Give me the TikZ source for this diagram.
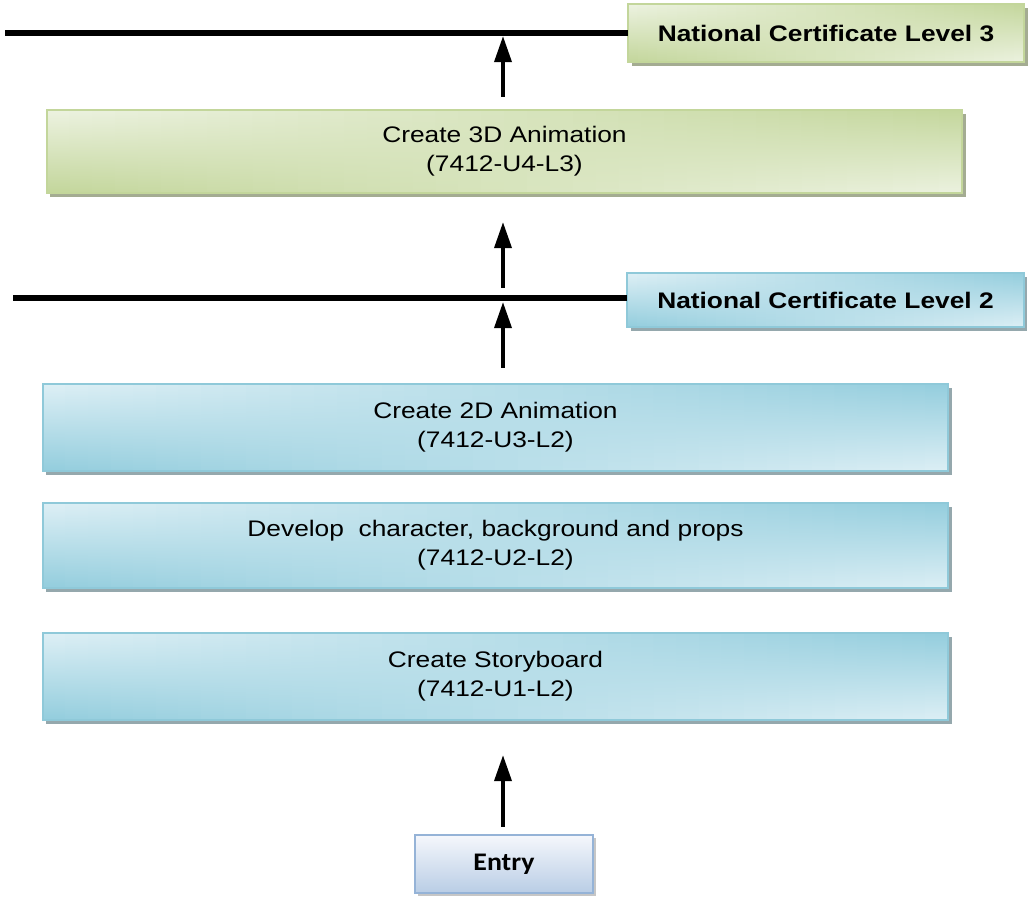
\documentclass[tikz,border=0pt]{standalone}
\usepackage{fontspec}
\setmainfont[FakeStretch=1.17]{Liberation Sans}
\newfontfamily\entryfont[FakeStretch=1.1]{Carlito}
\usetikzlibrary{arrows.meta,shadows,calc}

\definecolor{bluelight}{HTML}{DDEFF5}
\definecolor{bluedark}{HTML}{93CDDD}
\definecolor{blueline}{HTML}{8FC9D9}
\definecolor{blueshadow}{HTML}{95A8AD}
\definecolor{greenlight}{HTML}{ECF2E0}
\definecolor{greendark}{HTML}{C3D69B}
\definecolor{greenline}{HTML}{C3D69B}
\definecolor{greenshadow}{HTML}{A4AC92}
\definecolor{entrylight}{HTML}{F5F7FC}
\definecolor{entrydark}{HTML}{B9CDE5}
\definecolor{entryline}{HTML}{95B3D7}

\begin{document}
\begin{tikzpicture}[
    x=0.025cm, y=-0.025cm,
    saddle/.style 2 args={path picture={
        \foreach \i [evaluate=\i as \p using {int(100-\i*2.5)},
                     evaluate=\i as \a using {\i/40},
                     evaluate=\i as \b using {(\i+1.2)/40}] in {0,...,39}
            \fill[top color=#1!\p!#2, bottom color=#2!\p!#1]
                ($(path picture bounding box.south west)!\a!(path picture bounding box.south east)$)
                rectangle
                ($(path picture bounding box.north west)!\b!(path picture bounding box.north east)$);}},
    unitbox/.style={draw, line width=0.05cm, inner sep=0pt, outer sep=0pt, align=center,
        font=\fontsize{16}{20.6}\selectfont},
    bluebox/.style={unitbox, draw=blueline, saddle={bluelight}{bluedark},
        drop shadow={shadow xshift=0.09cm, shadow yshift=-0.1cm, fill=blueshadow, opacity=1}},
    greenbox/.style={unitbox, draw=greenline, saddle={greenlight}{greendark},
        drop shadow={shadow xshift=0.09cm, shadow yshift=-0.1cm, fill=greenshadow, opacity=1}},
    levelbox/.style={font=\fontsize{16}{20.6}\selectfont\bfseries,
        minimum width=9.9cm},
    levelline/.style={line width=0.15cm},
    uparrow/.style={line width=0.1cm, -{Triangle[length=0.65cm, width=0.42cm]}}
]
\useasboundingbox (0,0) rectangle (1032,899);

\node[greenbox, levelbox, minimum height=1.45cm] (nc3) at (826,33) {National Certificate Level 3};
\node[greenbox, minimum width=22.875cm, minimum height=2.075cm] (create3d) at (504.5,151.5)
    {Create 3D Animation\\(7412-U4-L3)};
\node[bluebox, levelbox, minimum height=1.35cm] (nc2) at (825.5,300) {National Certificate Level 2};
\node[bluebox, minimum width=22.625cm, minimum height=2.175cm] (create2d) at (495.5,427.5)
    {Create 2D Animation\\(7412-U3-L2)};
\node[bluebox, minimum width=22.625cm, minimum height=2.125cm] (develop) at (495.5,545.5)
    {Develop~ character, background and props\\(7412-U2-L2)};
\node[bluebox, minimum width=22.625cm, minimum height=2.175cm] (story) at (495.5,676.5)
    {Create Storyboard\\(7412-U1-L2)};
\node[draw=entryline, line width=0.05cm, top color=entrylight, bottom color=entrydark,
    minimum width=4.45cm, minimum height=1.45cm, inner sep=0pt,
    font=\entryfont\fontsize{18}{20}\selectfont\bfseries,
    drop shadow={shadow xshift=0.07cm, shadow yshift=-0.07cm, fill=gray!45, opacity=1}]
    (entry) at (504,864) {Entry};

\coordinate (lvl3end) at (5,33);
\coordinate (lvl3hit) at (503,36);
\coordinate (lvl2end) at (13,298);
\coordinate (lvl2up) at (503,288);
\coordinate (lvl2hit) at (503,302);

\draw[levelline] (lvl3end) -- (nc3.west |- lvl3end);
\draw[levelline] (lvl2end) -- (nc2.west |- lvl2end);

\draw[uparrow] ([yshift=0.325cm]create3d.north -| lvl3hit) -- (lvl3hit);
\draw[uparrow] (lvl2up) -- ([yshift=-0.725cm]create3d.south -| lvl2up);
\draw[uparrow] ([yshift=0.4cm]create2d.north -| lvl2hit) -- (lvl2hit);
\draw[uparrow] ([yshift=0.175cm]entry.north -| lvl2hit) -- ([yshift=-0.875cm]story.south -| lvl2hit);
\end{tikzpicture}
\end{document}
